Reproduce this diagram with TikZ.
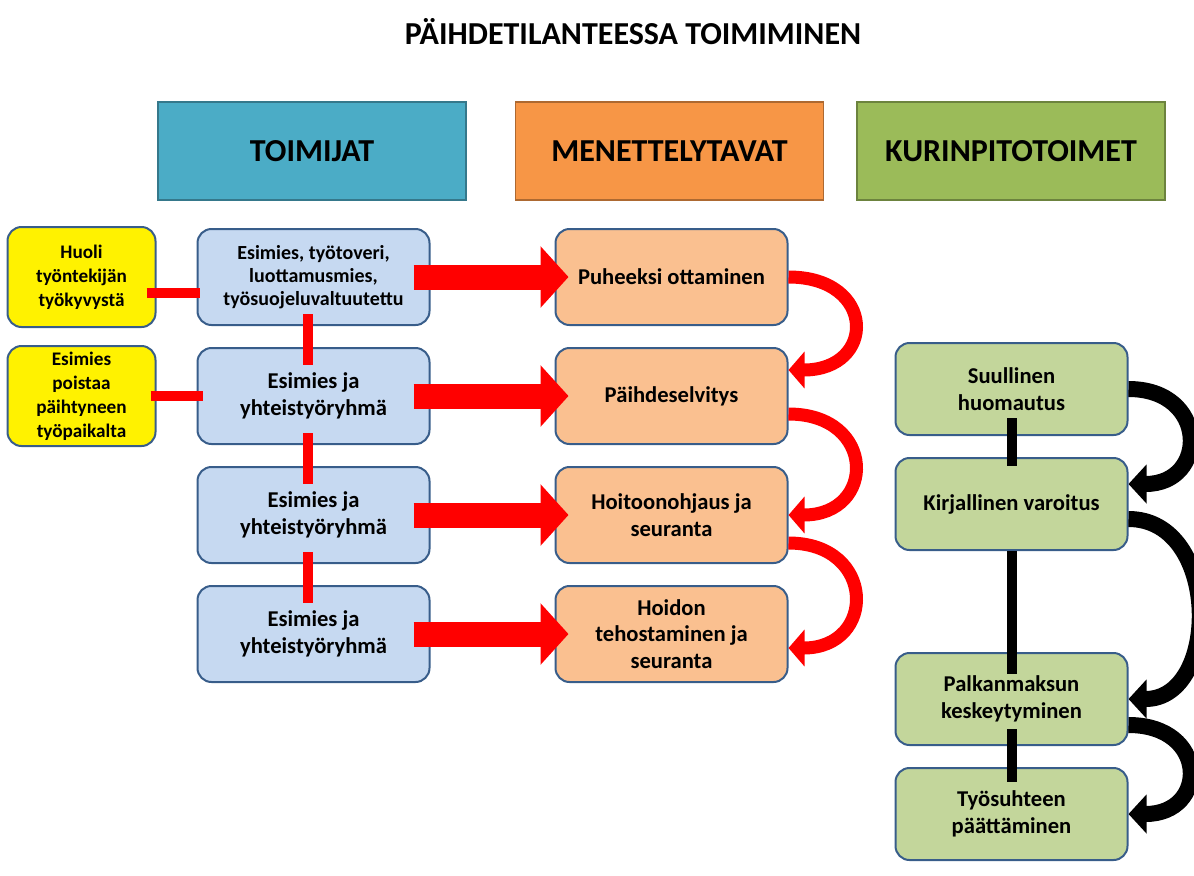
\documentclass[tikz,border=0pt]{standalone}
\usepackage{fontspec}
\setmainfont{Carlito}
\usepackage{tikz}
\usetikzlibrary{positioning, arrows.meta}

\definecolor{tealhead}{HTML}{4BACC6}
\definecolor{orangehead}{HTML}{F79646}
\definecolor{greenhead}{HTML}{9BBB59}
\definecolor{boxline}{HTML}{385D8A}
\definecolor{toimijafill}{HTML}{C6D9F1}
\definecolor{menettelyfill}{HTML}{FAC090}
\definecolor{kurifill}{HTML}{C3D69B}

\begin{document}
\begin{tikzpicture}[
    x=0.5pt, y=-0.5pt,
    node distance=10.5pt,
    header/.style={draw=#1!70!black, fill=#1, line width=0.8pt, minimum width=154pt, minimum height=49pt, font=\bfseries\fontsize{16}{19}\selectfont},
    rbox/.style={draw=boxline, fill=#1, line width=1pt, rounded corners=7pt, minimum width=116pt, minimum height=48pt, align=center, inner sep=1pt, font=\bfseries\fontsize{11.3}{13.3}\selectfont},
    smalltext/.style={font=\bfseries\fontsize{10}{11.5}\selectfont},
    yellowtext/.style={font=\bfseries\fontsize{9.6}{12}\selectfont},
    redbar/.style={draw=red, line width=5pt, shorten <=-6pt, shorten >=-9pt},
    blackbar/.style={draw=black, line width=5pt},
    bigarrow/.style={draw=red, line width=12.5pt, -{Triangle[length=14pt, width=30pt]}, shorten <=-8.5pt, shorten >=-7pt},
    curvearrow/.style={draw=#1, line width=6.5pt, -{Triangle[length=8pt, width=18pt]}},
    blackcurve/.style={draw=black, line width=8pt, -{Triangle[length=9pt, width=19pt]}},
]
  \useasboundingbox (0,0) rectangle (1194,875);

  \node[font=\bfseries\fontsize{16}{19}\selectfont] (title) at (633,32) {PÄIHDETILANTEESSA TOIMIMINEN};

  \node[header=tealhead] (toimijat) at (312,151) {TOIMIJAT};
  \node[header=orangehead] (menettely) at (669.5,151) {MENETTELYTAVAT};
  \node[header=greenhead] (kurinpito) at (1011,151) {KURINPITOTOIMET};

  \node[rbox=toimijafill, smalltext] (b1) at (313.5,277) {Esimies, työtoveri,\\luottamusmies,\\työsuojeluvaltuutettu};
  \node[rbox=toimijafill, below=of b1] (b2) {Esimies ja\\yhteistyöryhmä};
  \node[rbox=toimijafill, below=of b2] (b3) {Esimies ja\\yhteistyöryhmä};
  \node[rbox=toimijafill, below=of b3] (b4) {Esimies ja\\yhteistyöryhmä};

  \node[rbox=yellow, yellowtext, minimum width=74pt, minimum height=50pt, left=20pt of b1] (y1) {Huoli\\työntekijän\\työkyvystä};
  \node[rbox=yellow, yellowtext, minimum width=74pt, minimum height=50pt, left=20pt of b2] (y2) {Esimies\\poistaa\\päihtyneen\\työpaikalta};

  \node[rbox=menettelyfill, right=62pt of b1] (o1) {Puheeksi ottaminen};
  \node[rbox=menettelyfill, below=of o1] (o2) {Päihdeselvitys};
  \node[rbox=menettelyfill, below=of o2] (o3) {Hoitoonohjaus ja\\seuranta};
  \node[rbox=menettelyfill, below=of o3] (o4) {Hoidon\\tehostaminen ja\\seuranta};

  \node[rbox=kurifill, minimum height=46pt] (g1) at (1011.5,389) {Suullinen\\huomautus};
  \node[rbox=kurifill, minimum height=46pt, below=of g1] (g2) {Kirjallinen varoitus};
  \node[rbox=kurifill, minimum height=46pt] (g3) at (1011.5,699) {Palkanmaksun\\keskeytyminen};
  \node[rbox=kurifill, minimum height=46pt, below=of g3] (g4) {Työsuhteen\\päättäminen};

  \draw[redbar, shorten <=-5pt, shorten >=-1.5pt] ([yshift=-8pt]y1.east) -- ([yshift=-8pt]b1.west);
  \draw[redbar, shorten <=-3pt, shorten >=-3pt] (y2) -- (b2);
  \draw[redbar] ([xshift=-3pt]b1.south) -- ([xshift=-3pt]b2.north);
  \draw[redbar] ([xshift=-3pt]b2.south) -- ([xshift=-3pt]b3.north);
  \draw[redbar] ([xshift=-3pt]b3.south) -- ([xshift=-3pt]b4.north);

  \draw[bigarrow] (b1) -- (o1);
  \draw[bigarrow] (b2) -- (o2);
  \draw[bigarrow] (b3) -- (o3);
  \draw[bigarrow] (b4) -- (o4);

  \draw[curvearrow=red] (o1.east) .. controls +(44pt,0pt) and +(44pt,0pt) .. ([yshift=13pt]o2.east);
  \draw[curvearrow=red] ([yshift=-9pt]o2.east) .. controls +(44pt,0pt) and +(44pt,0pt) .. (o3.east);
  \draw[curvearrow=red] ([yshift=-14pt]o3.east) .. controls +(44pt,0pt) and +(44pt,0pt) .. ([yshift=-7pt]o4.east);

  \draw[blackbar, shorten <=-9pt, shorten >=-4.5pt] (g1) -- (g2);
  \draw[blackbar, shorten >=-11pt] (g2) -- (g3);
  \draw[blackbar, shorten <=-8.5pt, shorten >=-7.5pt] (g3) -- (g4);

  \draw[blackcurve] (g1.east) .. controls +(40pt,0pt) and +(40pt,0pt) .. ([yshift=10pt]g2.east);
  \draw[blackcurve] ([yshift=-7.5pt]g2.east) .. controls +(46pt,0pt) and +(46pt,0pt) .. (g3.east);
  \draw[blackcurve] ([yshift=-13pt]g3.east) .. controls +(40pt,0pt) and +(40pt,0pt) .. (g4.east);
\end{tikzpicture}
\end{document}
